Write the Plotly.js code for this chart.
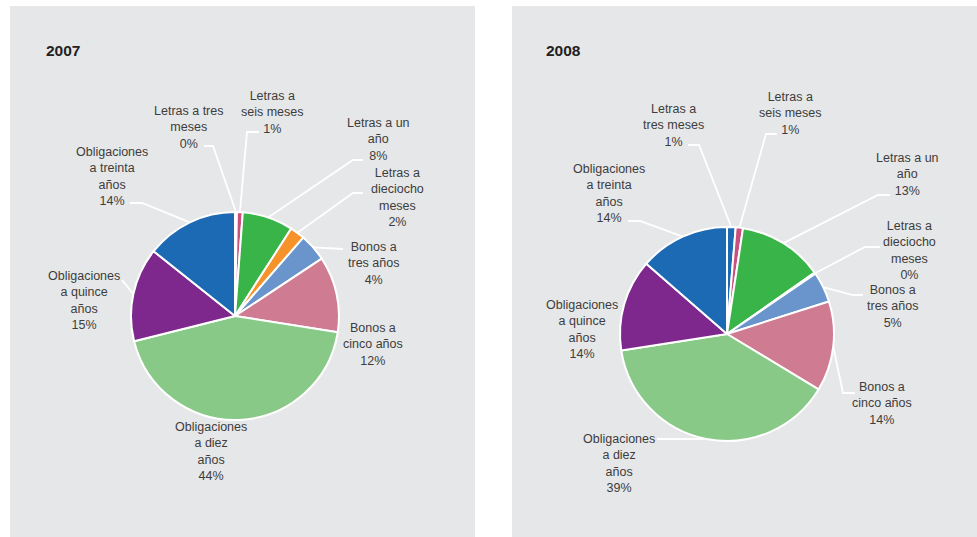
<!DOCTYPE html>
<html>
<head>
<meta charset="utf-8">
<script src="https://cdn.plot.ly/plotly-3.0.1.min.js"></script>
<style>html,body{margin:0;padding:0;background:#fff;}#chart{width:977px;height:537px;}</style>
</head>
<body>
<div id="chart"></div>
<script>
// ---- data ----
var categories = ["Letras a tres meses","Letras a seis meses","Letras a un año","Letras a dieciocho meses","Bonos a tres años","Bonos a cinco años","Obligaciones a diez años","Obligaciones a quince años","Obligaciones a treinta años"];
var labels2007 = ["Letras a tres<br>meses","Letras a<br>seis meses","Letras a un<br>año","Letras a<br>dieciocho<br>meses","Bonos a<br>tres años","Bonos a<br>cinco años","Obligaciones<br>a diez<br>años","Obligaciones<br>a quince<br>años","Obligaciones<br>a treinta<br>años"];
var labels2008 = ["Letras a<br>tres meses","Letras a<br>seis meses","Letras a un<br>año","Letras a<br>dieciocho<br>meses","Bonos a<br>tres años","Bonos a<br>cinco años","Obligaciones<br>a diez<br>años","Obligaciones<br>a quince<br>años","Obligaciones<br>a treinta<br>años"];
var values2007 = [0.3, 0.9, 7.9, 2.3, 4.3, 11.8, 43.6, 14.6, 14.3];
var values2008 = [1.3, 1.1, 12.9, 0.2, 4.6, 13.6, 38.9, 13.9, 13.6];
var colors = ["#1b6ab3","#c94f7c","#38b449","#f6922a","#6994cc","#cf7c93","#89c987","#7e278d","#1b6ab3"];
var years = ["2007","2008"];

// ---- layout helpers ----
var W = 977, H = 537;
function px(x){ return x / W; }
function py(y){ return 1 - y / H; }

var panels = [
  { cx: 235, cy: 316, r: 104, bg: [10, 6, 475, 537], title: [44, 51],
    values: values2007, labels: labels2007,
    textPos: [[188,127.5],[272,112.5],[378,139.5],[397,197],[373,263.5],[373,344.5],[211,451.5],[84,300],[112,176.5]],
    lines: [[204,146,213,146],[259,132,247,132],[363,160,353,160],[363,193,353,193],[343,249,343,249],null,null,[122,280,122,280],[130,203,142,203]] },
  { cx: 727, cy: 334, r: 107, bg: [512, 6, 977, 537], title: [544, 51],
    values: values2008, labels: labels2008,
    textPos: [[673,125],[790,113.5],[907,174.5],[909,250.5],[892,306.5],[882,403],[619,463.5],[582,329.5],[609,194]],
    lines: [[688,145,699,145],[777,134,766,134],[890,195,878,195],[880,247,865,247],[863,295,853,295],[855,393,843,393],[657,439,657,439],null,[628,221,640,221]] }
];

var traces = [], shapes = [], annotations = [];
var textColor = "#3d3d3d";
var fontFam = "Liberation Sans, Arial, sans-serif";

panels.forEach(function(p, k){
  // background panel
  shapes.push({type:"rect", xref:"paper", yref:"paper", layer:"below",
    x0:px(p.bg[0]), x1:px(p.bg[2]), y0:py(p.bg[3]), y1:py(p.bg[1]),
    fillcolor:"#e6e7e8", line:{width:0}});
  // pie
  traces.push({
    type:"pie", labels:categories, values:p.values, sort:false, direction:"clockwise", rotation:0,
    textinfo:"none", hoverinfo:"label+percent",
    marker:{colors:colors, line:{color:"#ffffff", width:2}},
    domain:{x:[px(p.cx - p.r), px(p.cx + p.r)], y:[py(p.cy + p.r), py(p.cy - p.r)]},
    showlegend:false
  });
  // title
  annotations.push({xref:"paper", yref:"paper", x:px(p.title[0]), y:py(p.title[1]), xanchor:"left", yanchor:"middle",
    text:"<b>"+years[k]+"</b>", showarrow:false, font:{family:fontFam, size:15.5, color:"#222"}});
  // labels and leader lines
  var total = p.values.reduce(function(a,b){return a+b;},0);
  var cum = 0;
  p.values.forEach(function(v, i){
    var mid = (cum + v/2) / total * 2 * Math.PI;
    cum += v;
    var pct = Math.round(v/total*100) + "%";
    var tp = p.textPos[i];
    annotations.push({xref:"paper", yref:"paper", x:px(tp[0]), y:py(tp[1]), xanchor:"center", yanchor:"middle",
      align:"center", text:p.labels[i] + "<br>" + pct, showarrow:false,
      font:{family:fontFam, size:12.5, color:textColor}});
    var ln = p.lines[i];
    if (ln) {
      var ex = p.cx + p.r * Math.sin(mid), ey = p.cy - p.r * Math.cos(mid);
      var path = "M " + px(ln[0]) + "," + py(ln[1]) + " L " + px(ln[2]) + "," + py(ln[3]) + " L " + px(ex) + "," + py(ey);
      shapes.push({type:"path", xref:"paper", yref:"paper", layer:"above", path:path,
        line:{color:"#ffffff", width:1.8}});
    }
  });
});

var layout = {
  width: W, height: H,
  margin:{l:0, r:0, t:0, b:0},
  paper_bgcolor:"#ffffff", plot_bgcolor:"rgba(0,0,0,0)",
  shapes: shapes, annotations: annotations,
  font:{family:fontFam}
};
Plotly.newPlot("chart", traces, layout, {displayModeBar:false, staticPlot:true});
</script>
</body>
</html>
